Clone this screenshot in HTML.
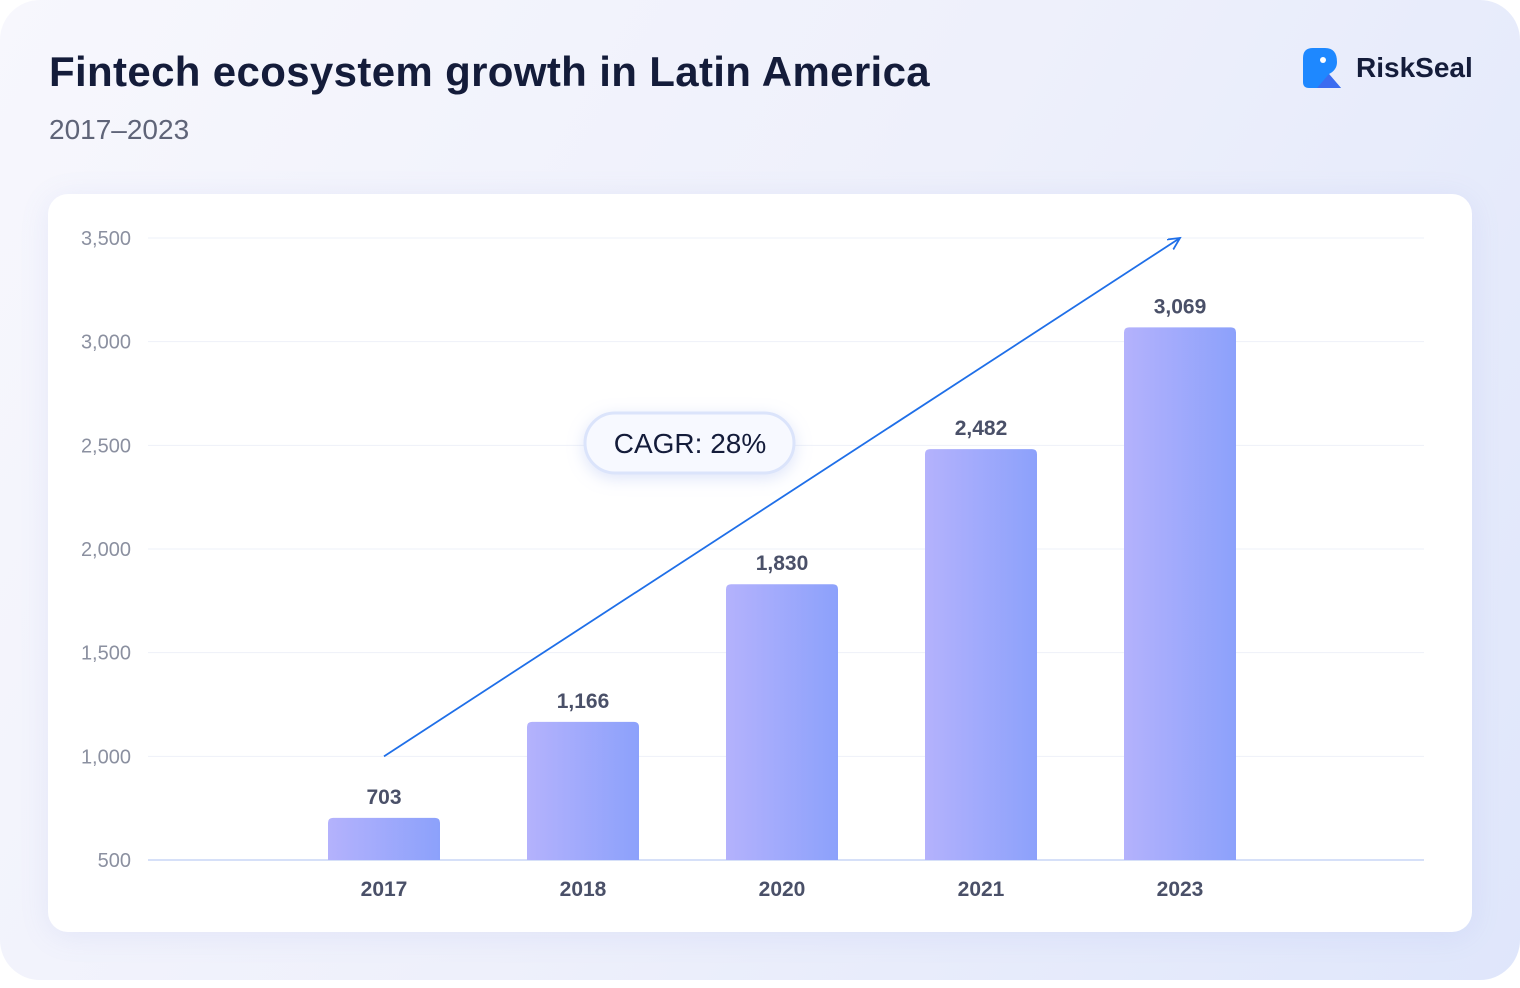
<!DOCTYPE html>
<html><head><meta charset="utf-8"><style>
html,body{margin:0;padding:0;width:1520px;height:988px;background:#fff;overflow:hidden}
#card{position:absolute;left:0;top:0;width:1520px;height:980px;border-radius:40px;background:linear-gradient(120deg,#f7f7fd 0%,#eef0fb 50%,#dfe6fb 100%)}
#title{position:absolute;left:49px;top:48px;font:700 42px "Liberation Sans",sans-serif;color:#141c3a;letter-spacing:0.35px}
#sub{position:absolute;left:49px;top:114px;font:400 28px "Liberation Sans",sans-serif;color:#5f6478}
#logo{position:absolute;left:1303px;top:48px;width:180px;height:42px}
#logo span{position:absolute;left:53px;top:4px;font:700 28px "Liberation Sans",sans-serif;color:#141c3a}
#panel{position:absolute;left:48px;top:194px;width:1424px;height:738px;background:#fff;border-radius:20px;box-shadow:0 4px 30px rgba(120,140,220,0.12)}
svg{position:absolute;left:0;top:0}
</style></head><body>
<div id="card"></div>
<div id="title">Fintech ecosystem growth in Latin America</div>
<div id="sub">2017–2023</div>
<div id="logo">
<svg width="40" height="42" viewBox="0 0 40 42"><path d="M0 10 Q0 0 10 0 L22 0 Q34 0 34 14 Q34 22 26 26 L38 40 L6 40 Q0 40 0 34 Z" fill="#1e88ff"/><path d="M14 40 L26 26 L38 40 Z" fill="#3b6cf0"/><circle cx="20" cy="12" r="3" fill="#fff"/></svg>
<span>RiskSeal</span></div>
<div id="panel"></div>
<svg id="chart" width="1520" height="988">
<defs><linearGradient id="bg" x1="0" x2="1"><stop offset="0" stop-color="#b4b2fc"/><stop offset="1" stop-color="#8ca1fb"/></linearGradient>
<marker id="ah" markerWidth="14" markerHeight="14" refX="12" refY="6" orient="auto" markerUnits="userSpaceOnUse"><path d="M0 0 L12 6 L0 12" fill="none" stroke="#1f6fe8" stroke-width="1.8"/></marker>
<filter id="sh" x="-30%" y="-50%" width="160%" height="200%"><feDropShadow dx="0" dy="4" stdDeviation="8" flood-color="#9fb2ef" flood-opacity="0.35"/></filter></defs>
</svg>
<script>
const categories=["2017","2018","2020","2021","2023"];
const values=[703,1166,1830,2482,3069];
const labels=["703","1,166","1,830","2,482","3,069"];
const ticks=[500,1000,1500,2000,2500,3000,3500];
const tickLabels=["500","1,000","1,500","2,000","2,500","3,000","3,500"];
const arrowFrom=[1000];const arrowTo=[3500];
const svg=document.getElementById('chart');const NS='http://www.w3.org/2000/svg';
const y=v=>860-(v-500)*(622/3000);
const x=i=>384+i*199;
const bw=112;
function mk(t,a){const e=document.createElementNS(NS,t);for(const k in a)e.setAttribute(k,a[k]);svg.appendChild(e);return e;}
ticks.forEach((t,i)=>{
 const g=mk('line',{x1:148,x2:1424,y1:y(t),y2:y(t),stroke:i==0?'#c9d6f5':'#eef1f8','stroke-width':i==0?1.5:1});
 
 const l=mk('text',{x:131,y:y(t)+7,'text-anchor':'end','font-family':'Liberation Sans, sans-serif','font-size':20,fill:'#8b90a0'});
 l.textContent=tickLabels[i];
 
});
categories.forEach((c,i)=>{
 const b=mk('path',{d:`M${x(i)-bw/2} 860 V${y(values[i])+5} Q${x(i)-bw/2} ${y(values[i])} ${x(i)-bw/2+5} ${y(values[i])} H${x(i)+bw/2-5} Q${x(i)+bw/2} ${y(values[i])} ${x(i)+bw/2} ${y(values[i])+5} V860 Z`,fill:'url(#bg)'});
 
 const v=mk('text',{x:x(i),y:y(values[i])-14,'text-anchor':'middle','font-family':'Liberation Sans, sans-serif','font-size':21,'font-weight':700,fill:'#4a5068'});
 v.textContent=labels[i];
 
 const xl=mk('text',{x:x(i),y:896,'text-anchor':'middle','font-family':'Liberation Sans, sans-serif','font-size':21,'font-weight':700,fill:'#4a5068'});
 xl.textContent=c;
 
});
const ar=mk('line',{x1:x(0),y1:y(arrowFrom[0]),x2:x(4),y2:y(arrowTo[0]),stroke:'#1f6fe8','stroke-width':1.8,'marker-end':'url(#ah)'});

const bd=mk('rect',{x:585,y:413,width:209,height:60,rx:30,fill:'#f7f9ff',stroke:'#dbe4fb','stroke-width':3,filter:'url(#sh)'});

const bt=mk('text',{x:690,y:453,'text-anchor':'middle','font-family':'Liberation Sans, sans-serif','font-size':28,fill:'#141c3a'});
bt.textContent='CAGR: 28%';

</script>
</body></html>
